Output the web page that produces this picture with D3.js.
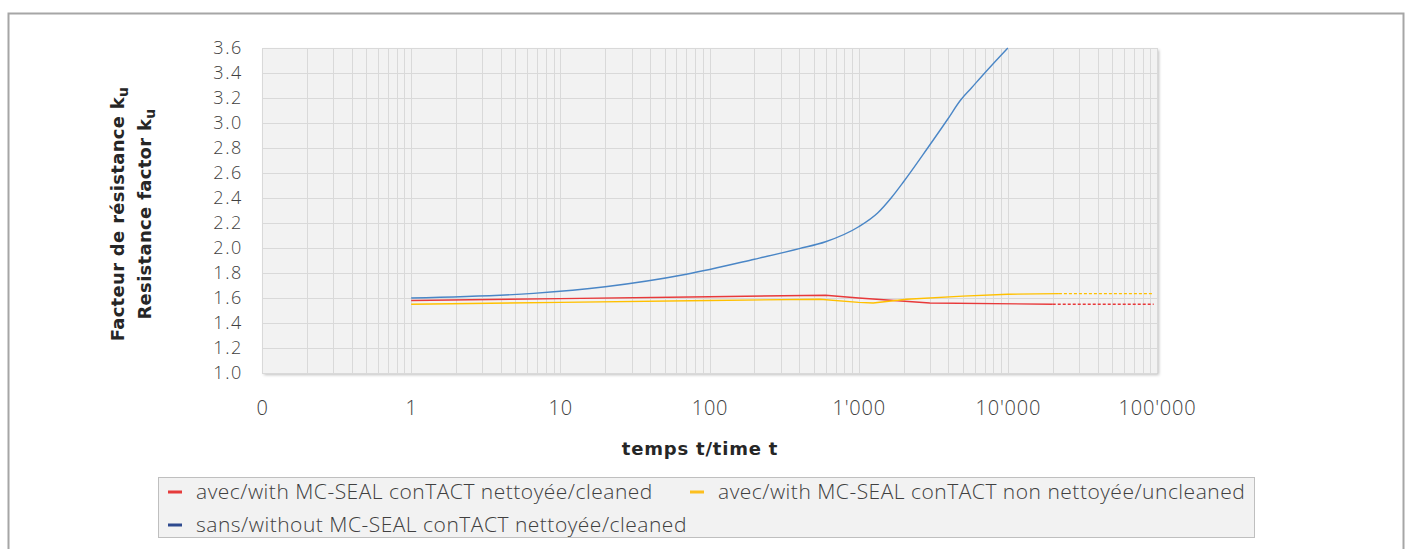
<!DOCTYPE html>
<html>
<head>
<meta charset="utf-8">
<script src="https://cdn.jsdelivr.net/npm/d3@7"></script>
<style>
  body { margin: 0; background: #fff; }
  svg { display: block; font-family: "Open Sans", Roboto, sans-serif; }
</style>
</head>
<body>
<div id="chart"></div>
<script>
// données (t, k_u)
const xTicks = [0.1, 1, 10, 100, 1000, 10000, 100000];
const xTickLabels = ["0", "1", "10", "100", "1'000", "10'000", "100'000"];
const yTicks = [1.0, 1.2, 1.4, 1.6, 1.8, 2.0, 2.2, 2.4, 2.6, 2.8, 3.0, 3.2, 3.4, 3.6];

const seriesNames = [
  "avec/with MC-SEAL conTACT nettoyée/cleaned",
  "avec/with MC-SEAL conTACT non nettoyée/uncleaned",
  "sans/without MC-SEAL conTACT nettoyée/cleaned"
];

const redSolid = [[1, 1.58], [10, 1.595], [100, 1.61], [600, 1.622], [1000, 1.60], [3000, 1.56], [20000, 1.55]];
const redDashed = [[20000, 1.55], [95000, 1.55]];
const yellowSolid = [[1, 1.55], [10, 1.565], [100, 1.58], [550, 1.59], [1000, 1.565], [1250, 1.56], [2100, 1.59], [5000, 1.615], [10000, 1.63], [22000, 1.635]];
const yellowDashed = [[22000, 1.635], [95000, 1.635]];
const blueSolid = [[1, 1.60], [6.6, 1.637], [20, 1.69], [70, 1.79], [200, 1.91], [400, 1.995], [600, 2.05], [1000, 2.17], [1340, 2.28], [1650, 2.40], [2000, 2.53], [2900, 2.80], [3950, 3.03], [4800, 3.18], [5700, 3.28], [7000, 3.40], [10000, 3.60]];

const W = 1410, H = 549;
const plot = { left: 262, right: 1157, top: 48, bottom: 373 };

const svg = d3.select("#chart").append("svg").attr("width", W).attr("height", H);

// ombre de la zone de tracé
const defs = svg.append("defs");
defs.append("filter").attr("id", "shadow").attr("x", "-5%").attr("y", "-5%").attr("width", "110%").attr("height", "115%")
  .append("feDropShadow").attr("dx", 2).attr("dy", 2).attr("stdDeviation", 1.5)
  .attr("flood-color", "#000").attr("flood-opacity", 0.25);

// cadre extérieur
svg.append("rect").attr("x", 8.5).attr("y", 13.5).attr("width", 1395).attr("height", 600)
  .attr("fill", "#fff").attr("stroke", "#a6a6a6").attr("stroke-width", 2);

const x = d3.scaleLog().domain([0.1, 100000]).range([plot.left, plot.right]);
const y = d3.scaleLinear().domain([1.0, 3.6]).range([plot.bottom, plot.top]);

svg.append("rect").attr("x", plot.left).attr("y", plot.top)
  .attr("width", plot.right - plot.left).attr("height", plot.bottom - plot.top)
  .attr("fill", "#f2f2f2").attr("filter", "url(#shadow)");

// grille
const gridX = [];
for (let e = -1; e < 5; e++) for (let m = 1; m <= 10; m++) gridX.push(m * Math.pow(10, e));
const grid = svg.append("g").attr("stroke", "#d9d9d9").attr("stroke-width", 1);
grid.selectAll("line.v").data(gridX).enter().append("line").attr("class", "v")
  .attr("x1", d => Math.round(x(d)) + 0.5).attr("x2", d => Math.round(x(d)) + 0.5)
  .attr("y1", plot.top).attr("y2", plot.bottom);
grid.selectAll("line.h").data(yTicks).enter().append("line").attr("class", "h")
  .attr("x1", plot.left).attr("x2", plot.right)
  .attr("y1", d => Math.round(y(d)) + 0.5).attr("y2", d => Math.round(y(d)) + 0.5);

// axes
const yAxis = svg.append("g").attr("transform", `translate(${plot.left},0)`)
  .call(d3.axisLeft(y).tickValues(yTicks).tickFormat(d3.format(".1f")).tickSize(0).tickPadding(19));
const xAxis = svg.append("g").attr("transform", `translate(0,${plot.bottom})`)
  .call(d3.axisBottom(x).tickValues(xTicks).tickFormat((d, i) => xTickLabels[i]).tickSize(0).tickPadding(28));
[yAxis, xAxis].forEach(a => {
  a.select(".domain").remove();
  a.selectAll("text").attr("fill", "#404040").attr("font-weight", 300)
    .attr("font-family", "'Open Sans', sans-serif");
});
yAxis.selectAll("text").attr("font-size", 18).attr("letter-spacing", 1.6);
xAxis.selectAll("text").attr("font-size", 20).attr("letter-spacing", 0.8);

// courbes
const line = d3.line().x(d => x(d[0])).y(d => y(d[1]));
const smooth = d3.line().x(d => x(d[0])).y(d => y(d[1])).curve(d3.curveMonotoneX);
const curves = svg.append("g").attr("fill", "none").attr("stroke-width", 1.4);
curves.append("path").datum(blueSolid).attr("d", smooth).attr("stroke", "#4a86c6");
curves.append("path").datum(redSolid).attr("d", line).attr("stroke", "#e8393a");
curves.append("path").datum(redDashed).attr("d", line).attr("stroke", "#e8393a").attr("stroke-dasharray", "3,2");
curves.append("path").datum(yellowSolid).attr("d", line).attr("stroke", "#ffc000");
curves.append("path").datum(yellowDashed).attr("d", line).attr("stroke", "#ffc000").attr("stroke-dasharray", "3,2");

// titres des axes
const yTitle = svg.append("text").attr("transform", "translate(124,214) rotate(-90)")
  .attr("text-anchor", "middle").attr("font-weight", "bold").attr("font-size", 18).attr("fill", "#262626")
  .attr("letter-spacing", 0.3).attr("font-family", "'DejaVu Sans', sans-serif");
const l1 = yTitle.append("tspan").attr("x", 0).attr("y", 0);
l1.append("tspan").text("Facteur de résistance k");
l1.append("tspan").attr("baseline-shift", "-25%").attr("font-size", 14).text("u");
const l2 = yTitle.append("tspan").attr("x", 0).attr("y", 27);
l2.append("tspan").text("Resistance factor k");
l2.append("tspan").attr("baseline-shift", "-25%").attr("font-size", 14).text("u");

svg.append("text").attr("x", 700).attr("y", 455).attr("text-anchor", "middle")
  .attr("font-weight", "bold").attr("font-size", 18).attr("fill", "#262626")
  .attr("letter-spacing", 0.8).attr("font-family", "'DejaVu Sans', sans-serif")
  .text("temps t/time t");

// légende
svg.append("rect").attr("x", 158.5).attr("y", 477.5).attr("width", 1096).attr("height", 60)
  .attr("fill", "#f2f2f2").attr("stroke", "#bfbfbf");
const legendColors = ["#e53b3b", "#fcbf1f", "#2e4a8f"];
const legendPos = [[168, 492], [690, 492], [168, 525]];
const leg = svg.append("g").selectAll("g").data(seriesNames).enter().append("g")
  .attr("transform", (d, i) => `translate(${legendPos[i][0]},${legendPos[i][1]})`);
leg.append("line").attr("x1", 0).attr("x2", 14).attr("stroke", (d, i) => legendColors[i]).attr("stroke-width", 3);
leg.append("text").attr("x", 28).attr("dy", "0.35em").attr("font-size", 21).attr("font-weight", 300)
  .attr("letter-spacing", 0.5).attr("fill", "#404040").text(d => d);
</script>
</body>
</html>
